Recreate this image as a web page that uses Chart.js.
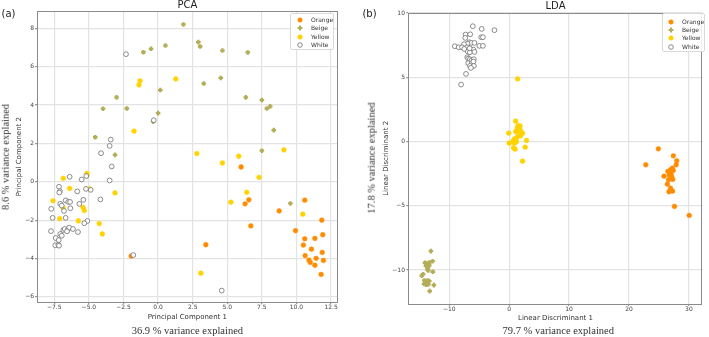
<!DOCTYPE html>
<html>
<head>
<meta charset="utf-8">
<script src="https://cdn.jsdelivr.net/npm/chart.js@4.4.1/dist/chart.umd.min.js"></script>
<style>
  html, body { margin: 0; padding: 0; background: #fff; }
  #wrap { position: relative; width: 709px; height: 337px; overflow: hidden; font-family: "DejaVu Sans", sans-serif; color: #222; }
  canvas { position: absolute; top: 0; }
  .lbl { position: absolute; white-space: nowrap; transform: translate(-50%, -50%); line-height: 1; }
  .rot { transform: translate(-50%, -50%) rotate(-90deg); }
  .serif { font-family: "Liberation Serif", serif; font-size: 10.5px; color: #333; }
  .panel { font-size: 10px; }
  .legend { position: absolute; border: 1px solid #d9d9d9; border-radius: 2px; background: rgba(255,255,255,0.85); box-sizing: border-box; }
  .legend .row { position: absolute; left: 0; height: 8px; font-size: 6px; line-height: 8px; color: #333; white-space: nowrap; }
  .legend svg { position: absolute; top: 1px; }
</style>
</head>
<body>
<div id="wrap">
  <canvas id="pca" width="375" height="337" style="left:0"></canvas>
  <canvas id="lda" width="355" height="337" style="left:354px"></canvas>

  <div class="lbl panel" style="left:8.5px;top:14px">(a)</div>
  <div class="lbl panel" style="left:369.5px;top:14px">(b)</div>
  <div class="lbl serif rot" style="left:5.5px;top:156.5px">8.6 % variance explained</div>
  <div class="lbl serif rot" style="left:372px;top:158px">17.8 % variance explained</div>
  <div class="lbl serif" style="left:187.4px;top:330.5px">36.9 % variance explained</div>
  <div class="lbl serif" style="left:558.3px;top:330.5px">79.7 % variance explained</div>
</div>
<script>
// series
const seriesNames = ['Orange', 'Beige', 'Yellow', 'White'];
const fillColors = ['#ff8c00', '#b3ad58', '#ffd200', '#ffffff'];
const edgeColors = ['#ff8c00', '#b3ad58', '#ffd200', '#707070'];

// PCA scores (PC1, PC2)
const pcaOrange = [[6.0,0.77],[6.29,-1.15],[6.56,-0.94],[10.6,-0.96],[8.75,-1.52],[11.83,-2.0],[6.7,-2.3],
  [9.93,-2.55],[11.9,-2.76],[11.33,-2.95],[10.6,-2.97],[10.5,-3.3],[11.08,-3.51],[11.86,-3.68],[10.63,-3.85],
  [11.42,-3.99],[11.95,-4.1],[10.9,-4.08],[11.0,-4.2],[11.33,-4.35],[11.78,-4.83],[3.45,-3.28],[-1.95,-3.87]];
const pcaBeige = [[-1.06,6.75],[-0.51,6.93],[0.53,7.1],[0.16,4.78],[-3.0,4.4],[-3.98,3.81],[-2.26,3.82],
  [0.0,3.58],[-0.36,3.13],[-4.54,2.32],[-4.12,1.49],[-3.11,1.4],[1.83,8.2],[2.91,7.28],[3.04,7.05],
  [4.65,6.84],[6.48,6.74],[3.3,5.12],[4.53,5.41],[6.34,4.4],[7.5,4.26],[7.86,3.82],[8.1,3.93],[8.36,2.69],
  [7.5,1.62],[9.56,-1.13]];
const pcaYellow = [[-1.3,5.26],[-1.38,5.05],[1.28,5.36],[-1.74,2.64],[2.8,1.47],[9.09,1.66],[5.83,1.33],
  [4.65,0.98],[7.3,0.23],[6.41,-0.55],[5.26,-1.06],[10.46,-1.69],[3.09,-4.76],[-6.85,0.18],[-5.14,0.44],
  [-5.14,0.33],[-3.11,-0.58],[-4.94,-0.37],[-6.39,-0.35],[-7.59,-0.99],[-6.85,-1.38],[-5.42,-1.34],
  [-5.33,-1.5],[-7.11,-1.92],[-5.76,-2.04],[-4.25,-2.18],[-4.03,-2.72]];
const pcaWhite = [[-2.32,6.65],[-0.31,3.21],[-3.42,2.2],[-3.5,1.87],[-4.12,1.49],[-3.35,0.8],[-6.39,0.26],
  [-5.52,0.12],[-5.19,0.3],[-3.5,0.07],[-4.87,-0.42],[-5.21,-0.37],[-7.16,-0.26],[-7.09,-0.49],[-7.14,-0.56],
  [-5.84,-0.5],[-4.17,-0.92],[-6.68,-0.97],[-6.49,-1.05],[-6.36,-1.05],[-5.4,-0.94],[-7.07,-1.15],
  [-6.96,-1.24],[-5.69,-1.15],[-7.72,-1.41],[-6.34,-1.38],[-6.8,-1.52],[-7.62,-1.88],[-6.68,-1.88],
  [-5.11,-2.04],[-5.33,-2.16],[-7.74,-2.57],[-6.85,-2.51],[-6.75,-2.46],[-6.53,-2.51],[-6.42,-2.39],
  [-6.15,-2.46],[-5.79,-2.62],[-6.58,-2.58],[-7.07,-2.72],[-6.96,-2.81],[-7.4,-2.93],[-7.18,-3.04],
  [-7.43,-3.31],[-7.21,-3.28],[-7.16,-3.33],[-1.79,-3.82],[4.6,-5.67]];

// LDA scores (LD1, LD2)
const ldaOrange = [[24.9,-0.57],[22.8,-1.81],[27.4,-1.11],[27.97,-1.5],[27.87,-1.81],[27.26,-2.07],
  [26.93,-2.2],[26.5,-2.33],[27.38,-2.26],[26.98,-2.51],[26.72,-2.62],[25.84,-2.7],[27.1,-2.7],[26.6,-2.98],
  [27.3,-2.95],[26.4,-3.32],[26.93,-3.63],[26.66,-3.91],[27.26,-3.86],[27.59,-5.05],[30.05,-5.75]];
const ldaBeige = [[-13.07,-8.53],[-12.79,-9.31],[-14.05,-9.43],[-13.66,-9.51],[-13.34,-9.41],[-13.89,-9.67],
  [-13.56,-9.78],[-13.34,-9.64],[-13.66,-9.95],[-13.5,-10.03],[-12.74,-10.13],[-14.38,-10.32],
  [-14.59,-10.44],[-14.16,-10.81],[-13.89,-10.91],[-13.61,-10.81],[-13.34,-10.86],[-14.21,-11.07],
  [-13.89,-11.14],[-13.5,-11.12],[-12.57,-11.17],[-13.27,-11.64]];
const ldaYellow = [[1.41,4.87],[1.08,1.58],[1.47,1.22],[1.8,1.22],[1.36,1.07],[1.74,0.99],[1.08,0.78],
  [1.52,0.78],[1.9,0.83],[2.23,0.65],[-0.07,0.65],[1.41,0.39],[1.9,0.44],[0.87,0.21],[1.15,0.1],[0.66,0.05],
  [2.89,0.08],[0.0,-0.13],[0.87,-0.13],[1.2,-0.02],[2.67,-0.44],[0.7,-0.49],[0.98,-0.6],[2.23,-1.53]];
const ldaWhite = [[-6.07,8.97],[-4.59,8.76],[-2.46,8.66],[-7.28,8.32],[-6.51,8.34],[-7.33,8.06],[-4.66,8.11],
  [-4.38,8.11],[-6.67,7.72],[-6.34,7.67],[-5.8,7.67],[-6.95,7.6],[-7.54,7.57],[-9.08,7.41],[-8.43,7.33],
  [-7.87,7.33],[-4.98,7.44],[-4.38,7.44],[-7.05,7.33],[-5.97,7.15],[-6.95,7.02],[-6.56,6.94],[-5.8,6.97],
  [-7.0,6.56],[-6.84,6.45],[-6.56,6.4],[-6.3,6.3],[-5.9,6.4],[-6.84,6.09],[-6.23,6.09],[-5.97,6.22],
  [-6.56,5.88],[-5.9,5.88],[-6.39,5.73],[-7.21,5.26],[-8.03,4.43],[-7.5,7.2],[-6.6,7.25]];

// axes
const pcaXTicks = [-7.5, -5, -2.5, 0, 2.5, 5, 7.5, 10, 12.5];
const pcaYTicks = [-6, -4, -2, 0, 2, 4, 6, 8];
const ldaXTicks = [-10, 0, 10, 20, 30];
const ldaYTicks = [-10, -5, 0, 5, 10];

const FONT = 'DejaVu Sans';

const minus = (digits) => (v) => (v < 0 ? '\u2212' : '') + Math.abs(v).toFixed(digits);

const frame = {
  id: 'frame',
  afterDatasetsDraw(chart) {
    const { ctx, chartArea: a } = chart;
    ctx.save();
    ctx.strokeStyle = '#8a8a8a';
    ctx.lineWidth = 1;
    ctx.strokeRect(Math.round(a.left) + 0.5, Math.round(a.top) + 0.5,
      Math.round(a.right - a.left) - 1, Math.round(a.bottom - a.top));
    ctx.restore();
  }
};

function makeDatasets(groups) {
  const styles = ['circle', 'cross', 'circle', 'circle'];
  const order = [3, 2, 1, 0];
  return groups.map((pts, i) => ({
    label: seriesNames[i],
    data: pts.map(p => ({ x: p[0], y: p[1] })),
    pointStyle: styles[i],
    pointRadius: i === 1 ? 2.3 : 2.4,
    pointBorderWidth: i === 1 ? 2.3 : (i === 3 ? 0.8 : 0.5),
    backgroundColor: fillColors[i],
    borderColor: edgeColors[i],
    order: order[i]
  }));
}

function axis(o) {
  return {
    type: 'linear',
    position: o.position,
    min: o.min,
    max: o.max,
    afterBuildTicks: (s) => { s.ticks = o.ticks.map(v => ({ value: v })); },
    afterFit: (s) => { if (o.position === 'bottom') s.height = o.size; else s.width = o.size; },
    grid: { color: '#e3e3e3', lineWidth: 1.2, tickLength: 2, tickColor: '#999' },
    border: { display: false },
    ticks: { font: { size: 6, family: FONT }, color: '#444', padding: o.pad, maxRotation: 0, autoSkip: false,
             callback: minus(o.digits) },
    title: { display: true, text: o.title, color: '#333', font: { size: 7, family: FONT },
             padding: o.titlePad }
  };
}

function makeChart(id, groups, o) {
  return new Chart(document.getElementById(id), {
    type: 'scatter',
    data: { datasets: makeDatasets(groups) },
    options: {
      responsive: false,
      animation: false,
      events: [],
      layout: { padding: o.padding },
      plugins: {
        legend: { display: false },
        tooltip: { enabled: false },
        title: { display: true, text: o.title, fullSize: false, color: '#222',
                 font: { size: 10, family: FONT, weight: 'normal', lineHeight: 1 },
                 padding: o.titlePad }
      },
      scales: { x: axis(o.x), y: axis(o.y) }
    },
    plugins: [frame]
  });
}

makeChart('pca', [pcaOrange, pcaBeige, pcaYellow, pcaWhite], {
  title: 'PCA',
  titlePad: { top: 0, bottom: 1 },
  padding: { left: 0, top: 0, right: 37.3, bottom: 13 },
  x: { position: 'bottom', min: -8.75, max: 12.98, ticks: pcaXTicks, digits: 1, size: 21.7, pad: 0,
       title: 'Principal Component 1', titlePad: { top: 0, bottom: 3.1 } },
  y: { position: 'left', min: -6.28, max: 8.9, ticks: pcaYTicks, digits: 0, size: 37, pad: 1,
       title: 'Principal Component 2', titlePad: { top: 15, bottom: 0 } }
});

makeChart('lda', [ldaOrange, ldaBeige, ldaYellow, ldaWhite], {
  title: 'LDA',
  titlePad: { top: 1, bottom: 1.7 },
  padding: { left: 0, top: 0, right: 0.7, bottom: 13 },
  x: { position: 'bottom', min: -16.84, max: 32.3, ticks: ldaXTicks, digits: 0, size: 20, pad: 0,
       title: 'Linear Discriminant 1', titlePad: { top: 0, bottom: 2.1 } },
  y: { position: 'left', min: -12.64, max: 10.02, ticks: ldaYTicks, digits: 0, size: 54.3, pad: 1.3,
       title: 'Linear Discriminant 2', titlePad: { top: 27.8, bottom: 0 } }
});

// legends inside the axes (upper right)
function marker(i) {
  const f = fillColors[i], e = edgeColors[i];
  if (i === 1) {
    return '<svg width="6" height="6"><path d="M3 0.6V5.4M0.6 3H5.4" stroke="' + e + '" stroke-width="2"/></svg>';
  }
  return '<svg width="6" height="6"><circle cx="3" cy="3" r="2.3" fill="' + f + '" stroke="' + e +
         '" stroke-width="' + (i === 3 ? 0.8 : 0.5) + '"/></svg>';
}
function legend(box) {
  const el = document.createElement('div');
  el.className = 'legend';
  el.style.left = box.left + 'px';
  el.style.top = box.top + 'px';
  el.style.width = box.width + 'px';
  el.style.height = box.height + 'px';
  seriesNames.forEach((name, i) => {
    const row = document.createElement('div');
    row.className = 'row';
    row.style.top = (box.first - box.top - 4 + i * box.step) + 'px';
    row.innerHTML = marker(i).replace('<svg', '<svg style="left:' + (box.markX - box.left - 3) + 'px"') +
      '<span style="position:absolute;left:' + (box.textX - box.left) + 'px">' + name + '</span>';
    el.appendChild(row);
  });
  document.getElementById('wrap').appendChild(el);
}
legend({ left: 290, top: 13, width: 44, height: 37, first: 19, step: 8.4, markX: 299.3, textX: 310 });
legend({ left: 661.7, top: 13, width: 43.3, height: 38.7, first: 20.7, step: 8.35, markX: 670, textX: 681 });
</script>
</body>
</html>
